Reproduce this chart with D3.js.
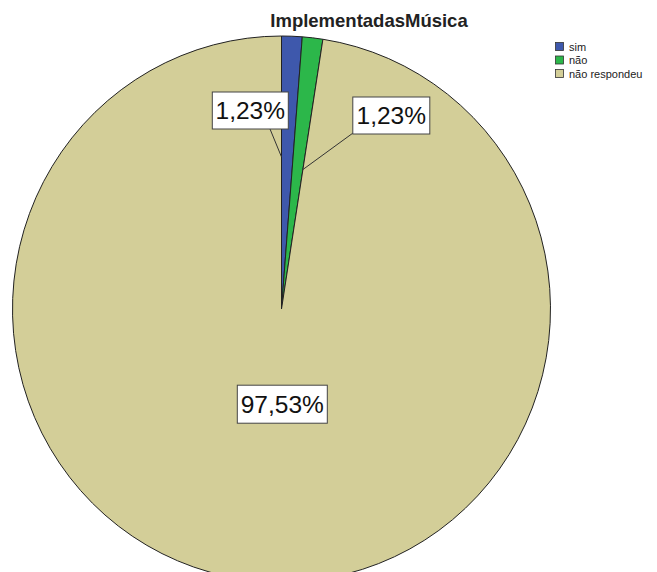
<!DOCTYPE html>
<html><head><meta charset="utf-8">
<script src="https://cdn.jsdelivr.net/npm/d3@7"></script>
<style>body{margin:0;background:#fff}svg{display:block}</style>
</head><body>
<svg id="c" width="657" height="572"></svg>
<script>
const categories = ["sim", "não", "não respondeu"];
const values = [1.23, 1.23, 97.53];
const labels = ["1,23%", "1,23%", "97,53%"];
const colors = ["#3e58ac", "#2cb74a", "#d3ce98"];
const title = "ImplementadasMúsica";

const svg = d3.select("#c");
const cx = 281.5, cy = 309, rx = 269, ry = 273;

const pie = d3.pie().sort(null).value(d => d)(values);
const arc = d3.arc().innerRadius(0).outerRadius(rx);

const g = svg.append("g").attr("transform", `translate(${cx},${cy}) scale(1,${ry/rx})`);
g.selectAll("path").data(pie).enter().append("path")
  .attr("d", arc)
  .attr("fill", (d, i) => colors[i])
  .attr("stroke", "#222")
  .attr("stroke-width", 1)
  .attr("vector-effect", "non-scaling-stroke");

const pt = (a, r) => [cx + Math.sin(a) * r, cy - Math.cos(a) * r * ry / rx];
const labelBoxes = [
  {x: 250.3, y: 110.5, w: 76, h: 37, anchorR: 0.557, edge: "start", from: [270, 129]},
  {x: 391.3, y: 115.5, w: 77, h: 37, anchorR: 0.517, edge: "end", from: [353, 133]},
  {x: 282.3, y: 404.2, w: 90, h: 38, anchorR: null}
];
const lg = svg.append("g");
pie.forEach((d, i) => {
  const b = labelBoxes[i];
  if (b.anchorR !== null) {
    const a = b.edge === "start" ? d.startAngle : d.endAngle;
    const p = pt(a, rx * b.anchorR);
    lg.append("line").attr("x1", b.from[0]).attr("y1", b.from[1])
      .attr("x2", p[0]).attr("y2", p[1]).attr("stroke", "#333").attr("stroke-width", 1);
  }
  lg.append("rect").attr("x", b.x - b.w/2).attr("y", b.y - b.h/2)
    .attr("width", b.w).attr("height", b.h)
    .attr("fill", "#fff").attr("stroke", "#444").attr("stroke-width", 1);
  lg.append("text").attr("x", b.x).attr("y", b.y + 8.5)
    .attr("text-anchor", "middle")
    .attr("font-family", "Liberation Sans, Arial, sans-serif")
    .attr("font-size", 24.5).attr("fill", "#111").text(labels[i]);
});

svg.append("text").attr("x", 369).attr("y", 27).attr("text-anchor", "middle")
  .attr("font-family", "Liberation Sans, Arial, sans-serif")
  .attr("font-weight", "bold").attr("font-size", 18.5).attr("fill", "#222").text(title);

const leg = svg.append("g").attr("transform", "translate(555,42)");
categories.forEach((c, i) => {
  const row = leg.append("g").attr("transform", `translate(0,${i*13.5})`);
  row.append("rect").attr("x", 0.5).attr("y", 0.5).attr("width", 8).attr("height", 8)
    .attr("fill", colors[i]).attr("stroke", "#333").attr("stroke-width", 0.8);
  row.append("text").attr("x", 14).attr("y", 8.5)
    .attr("font-family", "Liberation Sans, Arial, sans-serif")
    .attr("font-size", 11).attr("fill", "#222").text(c);
});
</script>
</body></html>
